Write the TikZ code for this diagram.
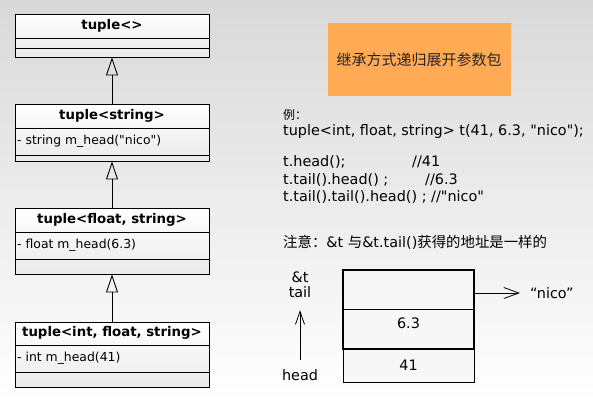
\documentclass[tikz,border=0pt]{standalone}
\usepackage{fontspec}
\setmainfont{DejaVu Sans}
\newfontfamily\plainfont{DejaVu Sans}
\newfontfamily\cjk{Noto Sans CJK SC}
\usepackage{tikz}
\usetikzlibrary{arrows.meta,positioning,shadows}

\definecolor{titlebg}{HTML}{FFAA55}

\tikzset{
  umlbox/.style={draw, line width=0.9pt, minimum width=194pt, inner sep=0pt,
    top color=white, bottom color=black!8,
    drop shadow={opacity=0.25, shadow xshift=1pt, shadow yshift=-1pt}},
  umltitle/.style={font=\plainfont\fontsize{13.3}{16}\selectfont\bfseries, inner sep=0pt},
  umlattr/.style={font=\plainfont\fontsize{12.4}{15}\selectfont, anchor=west, inner sep=0pt},
  codetext/.style={font=\plainfont\fontsize{14.4}{17}\selectfont, anchor=west, inner sep=0pt},
  inherit/.style={-{Triangle[open, length=18pt, width=12pt]}, line width=0.9pt},
  membox/.style={draw, minimum width=131pt, inner sep=0pt, fill=black!3},
  barb/.style={line width=0.8pt}
}

\begin{document}
\begin{tikzpicture}[x=1pt, y=-1pt]

    % Background
    \fill[top color=black!15, bottom color=white] (0,0) rectangle (593,402);
    \useasboundingbox (0,0) rectangle (593,402);

    % --- Class hierarchy (left) ---
    \node[umlbox, minimum height=43pt] (tup0) at (112,35.5) {};
    \node[umltitle] (tup0t) at (112,26) {tuple<>};
    \draw[line width=0.9pt] (15,38) -- (209,38);
    \draw[line width=0.9pt] (15,48) -- (209,48);

    \node[umlbox, minimum height=57pt] (tup1) at (112,132.5) {};
    \node[umltitle] (tup1t) at (112,116) {tuple<string>};
    \draw[line width=0.9pt] (15,128) -- (209,128);
    \node[umlattr] (tup1a) at (17,141.5) {- string m\_head("nico")};
    \draw[line width=0.9pt] (15,155) -- (209,155);

    \node[umlbox, minimum height=66pt] (tup2) at (112,241) {};
    \node[umltitle] (tup2t) at (112,220) {tuple<float, string>};
    \draw[line width=0.9pt] (15,232) -- (209,232);
    \node[umlattr] (tup2a) at (17,245.5) {- float m\_head(6.3)};
    \draw[line width=0.9pt] (15,259) -- (209,259);

    \node[umlbox, minimum height=65pt] (tup3) at (112,354.5) {};
    \node[umltitle] (tup3t) at (112,333) {tuple<int, float, string>};
    \draw[line width=0.9pt] (15,345) -- (209,345);
    \node[umlattr] (tup3a) at (17,358.5) {- int m\_head(41)};
    \draw[line width=0.9pt] (15,372) -- (209,372);

    % Inheritance arrows
    \draw[inherit] (tup1.north) -- (tup0.south);
    \draw[inherit] (tup2.north) -- (tup1.south);
    \draw[inherit] (tup3.north) -- (tup2.south);

    % --- Heading ---
    \node[fill=titlebg, minimum width=183pt, minimum height=73pt,
          font=\cjk\fontsize{15}{18}\selectfont, text=black!85] (heading) at (419,59.5) {继承方式递归展开参数包};

    % --- Example code ---
    \node[codetext] (ex) at (283,115) {{\cjk\fontsize{12}{14}\selectfont 例：}};
    \node[codetext] (decl) at (283,132) {tuple<int, float, string> t(41, 6.3, "nico");};
    \node[codetext] (call0) at (283,162) {t.head();};
    \node[codetext] (cmt0) at (412,162) {//41};
    \node[codetext] (call1) at (283,180) {t.tail().head() ;};
    \node[codetext] (cmt1) at (425,180) {//6.3};
    \node[codetext] (call2) at (283,197) {t.tail().tail().head() ; //"nico"};

    % Note
    \node[codetext] (note) at (283,242) {{\cjk 注意：}\&t {\cjk 与}\&t.tail(){\cjk 获得的地址是一样的}};

    % --- Memory layout ---
    \node[membox, minimum height=33pt] (cell41) at (408.5,365.5) {};
    \node[codetext, anchor=center] (v41) at (cell41.center) {41};
    \node[membox, line width=2.6pt, minimum height=79pt] (tail) at (408.5,309.5) {};
    \draw[line width=0.8pt] (343,309) -- (474,309);
    \node[codetext, anchor=center] (v63) at (408.5,323) {6.3};

    % Pointer to "nico"
    \coordinate (tailout) at (474,293);
    \node[codetext] (nico) at (530,293) {“nico”};
    \draw[barb, -{Straight Barb[length=15pt, width=11pt, line width=0.8pt]}] (tailout) -- ([xshift=-10pt]nico.west);

    % head / tail labels
    \node[codetext, anchor=center, align=center] (tlabel) at (300,285) {\&t\\[-2pt]tail};
    \node[codetext, anchor=center] (hlabel) at (300,375) {head};
    \draw[barb, -{Straight Barb[length=13pt, width=9pt, line width=0.8pt]}] ([yshift=9pt]hlabel.north) -- ([yshift=-12pt]tlabel.south);

\end{tikzpicture}
\end{document}
